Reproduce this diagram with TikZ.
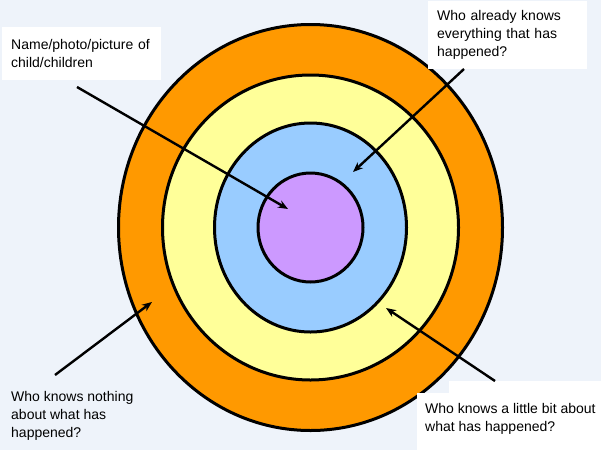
\documentclass[tikz,border=0pt]{standalone}
\usepackage{fontspec}
\setmainfont{Liberation Sans}
\usetikzlibrary{arrows.meta}
\definecolor{slidebg}{RGB}{238,243,250}
\definecolor{ringorange}{RGB}{255,153,0}
\definecolor{ringyellow}{RGB}{255,255,153}
\definecolor{ringblue}{RGB}{153,204,255}
\definecolor{ringpurple}{RGB}{204,153,255}

\begin{document}
\begin{tikzpicture}[
    x=1pt, y=-1pt,
    ring/.style={draw=black, line width=3pt},
    note/.style={rectangle, fill=white, align=left, inner xsep=9pt, inner ysep=0pt,
        font=\fontsize{14}{18}\selectfont},
    plain/.style={note, fill=none},
    arrow/.style={-{Stealth[length=10pt, width=8pt]}, line width=2.4pt}
]
    % slide background fixes the size
    \fill[slidebg] (0,0) rectangle (601,450);
    \useasboundingbox (0,0) rectangle (601,450);
    \clip (0,0) rectangle (601,450);

    \coordinate (ctr) at (310.5,227.5);
    \draw[ring, fill=ringorange] (ctr) ellipse [x radius=192pt, y radius=203pt];
    \draw[ring, fill=ringyellow] (ctr) ellipse [x radius=148pt, y radius=152.5pt];
    \draw[ring, fill=ringblue]   (ctr) ellipse [x radius=96pt, y radius=104.5pt];
    \draw[ring, fill=ringpurple] (ctr) ellipse [x radius=52.5pt, y radius=54.5pt];

    \node[note, text width=141pt, minimum height=53pt, anchor=north west] (child) at (2,27)
        {Name/photo/picture of\\child/children};
    \node[note, text width=141pt, minimum height=68pt, anchor=north west] (already) at (428,1)
        {Who already knows\\everything that has\\happened?};
    \node[plain, anchor=west] (nothing) at (2,416)
        {Who knows nothing\\about what has\\happened?};
    \fill[white] (417,393) -- (449,393) -- (449,381) -- (601,381) -- (601,450) -- (417,450) -- cycle;
    \node[plain, inner xsep=8pt, anchor=west] (little) at (417,419)
        {Who knows a little bit about\\what has happened?};

    \coordinate (childtail) at (77,87);
    \coordinate (childtip) at (288,209);
    \coordinate (alreadytail) at (464,69);
    \coordinate (alreadytip) at (353,172);
    \coordinate (nothingtail) at (55,375);
    \coordinate (nothingtip) at (152,302);
    \coordinate (littletail) at (495,381);
    \coordinate (littletip) at (386,308);

    \draw[arrow] (childtail) -- (childtip);
    \draw[arrow] (alreadytail) -- (alreadytip);
    \draw[arrow] (nothingtail) -- (nothingtip);
    \draw[arrow] (littletail) -- (littletip);
\end{tikzpicture}
\end{document}
